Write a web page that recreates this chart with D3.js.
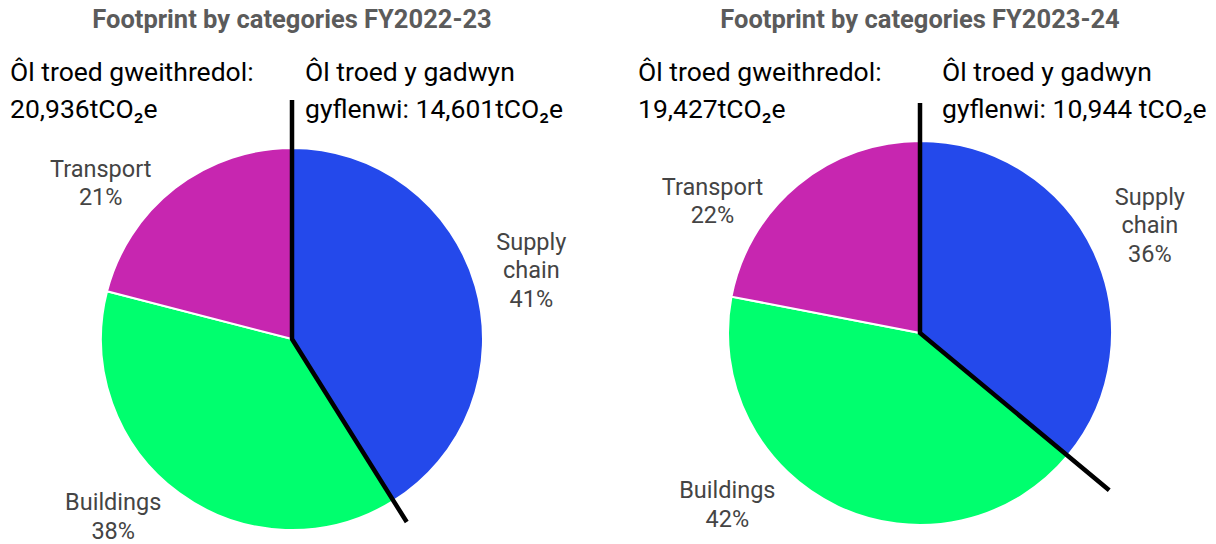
<!DOCTYPE html>
<html>
<head>
<meta charset="utf-8">
<script src="https://cdn.jsdelivr.net/npm/d3@7"></script>
<style>
  body { margin: 0; background: #fff; }
  text { font-family: Roboto, "Noto Sans", sans-serif; }
</style>
</head>
<body>
<div id="chart"></div>
<script>
// Datos de las dos tartas (tCO2e)
const categories = ["Supply chain", "Buildings", "Transport"];
const labelLines = [["Supply", "chain"], ["Buildings"], ["Transport"]];
const colors = ["#2449EB", "#00FF6E", "#C726B0"];

const titles = ["Footprint by categories FY2022-23", "Footprint by categories FY2023-24"];
const values2022 = [14601, 13480, 7456];
const values2023 = [10944, 12756, 6671];

const opNotes = [["Ôl troed gweithredol:", "20,936tCO₂e"], ["Ôl troed gweithredol:", "19,427tCO₂e"]];
const scNotes = [["Ôl troed y gadwyn", "gyflenwi: 14,601tCO₂e"], ["Ôl troed y gadwyn", "gyflenwi: 10,944 tCO₂e"]];

// Configuración de la visualización
const width = 1216;
const height = 544;

const panels = [
  { values: values2022, cx: 292, cy: 339, r: 191, noteX: [10, 305], lineUp: 239, lineOut: 216,
    labelNudge: [[0, 249], [9, 252], [-13, 247]] },
  { values: values2023, cx: 920, cy: 333, r: 192, noteX: [638, 942], lineUp: 230, lineOut: 246,
    labelNudge: [[0, 254], [23, 258], [-18, 246]] }
];

const svg = d3.select("#chart")
  .append("svg")
  .attr("width", width)
  .attr("height", height);

const pie = d3.pie().sort(null).value(d => d);

panels.forEach((p, i) => {
  const g = svg.append("g").attr("transform", `translate(${p.cx},${p.cy})`);
  const arcs = pie(p.values);
  const total = d3.sum(p.values);
  const arc = d3.arc().innerRadius(0).outerRadius(p.r);

  // Sectores
  g.selectAll("path")
    .data(arcs)
    .enter().append("path")
    .attr("d", arc)
    .attr("fill", (d, j) => colors[j])
    .attr("stroke", "#fff")
    .attr("stroke-width", 2);

  // Línea negra que separa la cadena de suministro
  const a = arcs[0].endAngle;
  g.append("path")
    .attr("d", d3.line()([
      [0, -p.lineUp],
      [0, 0],
      [Math.sin(a) * p.lineOut, -Math.cos(a) * p.lineOut]
    ]))
    .attr("fill", "none")
    .attr("stroke", "#000")
    .attr("stroke-width", 4.5)
    .attr("stroke-linejoin", "miter");

  // Etiquetas
  arcs.forEach((d, j) => {
    const mid = (d.startAngle + d.endAngle) / 2 + p.labelNudge[j][0] * Math.PI / 180;
    const rr = p.labelNudge[j][1];
    const x = Math.sin(mid) * rr;
    const y = -Math.cos(mid) * rr;
    const lines = labelLines[j].concat([Math.round(d.data / total * 100) + "%"]);
    const t = g.append("text")
      .attr("text-anchor", "middle")
      .attr("font-size", 23.5)
      .attr("fill", "#444");
    lines.forEach((s, k) => {
      t.append("tspan")
        .attr("x", x)
        .attr("y", y + (k - (lines.length - 1) / 2) * 28.5 + 8)
        .text(s);
    });
  });

  // Título
  svg.append("text")
    .attr("x", p.cx)
    .attr("y", 28)
    .attr("text-anchor", "middle")
    .attr("font-size", 25.5)
    .attr("font-weight", "bold")
    .attr("fill", "#5b5b5b")
    .text(titles[i]);

  // Notas
  [opNotes[i], scNotes[i]].forEach((note, k) => {
    note.forEach((s, m) => {
      svg.append("text")
        .attr("x", p.noteX[k])
        .attr("y", 81 + m * 37)
        .attr("font-size", 26.5)
        .attr("fill", "#000")
        .text(s);
    });
  });
});
</script>
</body>
</html>
